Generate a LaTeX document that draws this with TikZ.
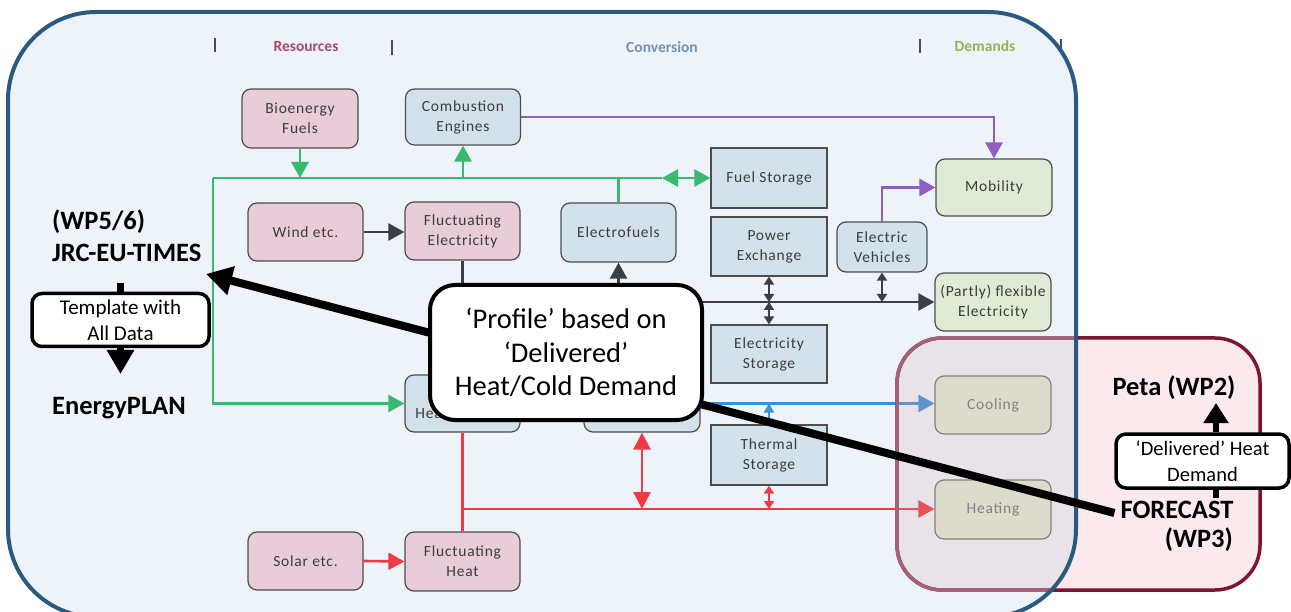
\documentclass[tikz,border=0pt]{standalone}
\usepackage{fontspec}
\setmainfont{Carlito}
\newfontfamily\boxfont[LetterSpace=5]{Carlito}
\usetikzlibrary{arrows.meta}
\definecolor{frameblue}{HTML}{2A5A80}
\definecolor{framefill}{HTML}{EEF3F9}
\definecolor{boxline}{HTML}{4D4D4D}
\definecolor{txt}{HTML}{3C3C3C}
\definecolor{boxpink}{HTML}{E8CCD8}
\definecolor{boxblue}{HTML}{D3E1EA}
\definecolor{boxgreen}{HTML}{DFEBD5}
\definecolor{cgreen}{HTML}{35BA70}
\definecolor{cpurple}{HTML}{8D5EC4}
\definecolor{cdark}{HTML}{3B3F44}
\definecolor{cblue}{HTML}{3E90D4}
\definecolor{cred}{HTML}{EE3A45}
\definecolor{petaline}{HTML}{7D1530}
\definecolor{petamuted}{HTML}{A36277}
\definecolor{petafill}{HTML}{FBE9ED}
\definecolor{overlaycol}{HTML}{D5A8B3}
\definecolor{hres}{HTML}{A84A6C}
\definecolor{hconv}{HTML}{7195AE}
\definecolor{hdem}{HTML}{8DB657}
\tikzset{
  MedTip/.tip={Triangle[length=16pt,width=17pt]},
  SmTip/.tip={Triangle[length=8pt,width=10pt]},
  RedTip/.tip={Triangle[length=17pt,width=17pt]},
  BlkTip/.tip={Triangle[length=26pt,width=28pt]},
  base/.style={draw=boxline, line width=1.2pt, align=center, text=txt,
    font=\boxfont\fontsize{15.5}{20}\selectfont, inner sep=2pt},
  sz/.style 2 args={minimum width=#1pt, minimum height=#2pt},
  pinkbox/.style={base, rounded corners=9pt, fill=boxpink},
  bluebox/.style={base, rounded corners=9pt, fill=boxblue},
  greenbox/.style={base, rounded corners=9pt, fill=boxgreen},
  sqbox/.style={base, fill=boxblue},
  gline/.style={draw=cgreen, line width=2.6pt},
  pline/.style={draw=cpurple, line width=2.6pt},
  dline/.style={draw=cdark, line width=2.6pt},
  bline/.style={draw=cblue, line width=2.6pt},
  rline/.style={draw=cred, line width=2.6pt},
  blk/.style={draw=black, line width=7.5pt},
  hdr/.style={font=\bfseries\fontsize{15.5}{18}\selectfont},
  hbar/.style={draw=black!70, line width=1.6pt},
  big/.style={font=\bfseries\fontsize{26.5}{30}\selectfont, inner sep=2pt},
  callout/.style={draw=black, fill=white, line width=3.5pt, align=center}
}
\begin{document}
\begin{tikzpicture}[x=1pt,y=-1pt]
\useasboundingbox (0,0) rectangle (1291,612);
% peta background (outside part)
\fill[petafill, rounded corners=45pt] (897,338) rectangle (1260,590);
% main frame fill
\fill[framefill, rounded corners=88pt] (8,12) rectangle (1076,617);

% headers
\draw[hbar] (215,38) -- (215,52);
\draw[hbar] (392,40) -- (392,55);
\draw[hbar] (920,39) -- (920,53);
\draw[hbar] (1061,39) -- (1061,53);
\node[hdr, text=hres] (hRes) at (306,47) {Resources};
\node[hdr, text=hconv] (hConv) at (662,47) {Conversion};
\node[hdr, text=hdem] (hDem) at (985,46) {Demands};

% boxes
\node[pinkbox, sz={116}{59}] (bio) at (300,118.5) {Bioenergy\\Fuels};
\node[bluebox, sz={115}{56}] (comb) at (463,117) {Combustion\\Engines};
\node[sqbox, sz={116}{60}] (fuelst) at (769,178) {Fuel Storage};
\node[greenbox, sz={116}{57}] (mob) at (994,187.5) {Mobility};
\node[pinkbox, sz={115}{58}] (wind) at (305.5,232) {Wind etc.};
\node[pinkbox, sz={115}{58}] (fluce) at (462.5,231) {Fluctuating\\Electricity};
\node[bluebox, sz={115}{59}] (efuel) at (618.5,232.5) {Electrofuels};
\node[sqbox, sz={116}{59}] (pex) at (769,246.5) {Power\\Exchange};
\node[bluebox, sz={90}{50}] (ev) at (882,247) {Electric\\Vehicles};
\node[greenbox, sz={116}{58}] (flex) at (993,302) {(Partly) flexible\\Electricity};
\node[sqbox, sz={116}{58}] (elst) at (769,354) {Electricity\\Storage};
\node[bluebox, sz={115}{57}] (chp) at (462.5,403.5) {Combined\\Heat \& Power};
\node[bluebox, sz={116}{57}] (hp) at (642,403.5) {};
\node[greenbox, sz={116}{58}, text=black!55, draw=black!55] (cool) at (993,405) {Cooling};
\node[greenbox, sz={116}{59}, text=black!55, draw=black!55] (heat) at (993,509.5) {Heating};
\node[sqbox, sz={116}{60}] (thst) at (769,455) {Thermal\\Storage};
\node[pinkbox, sz={115}{58}] (solar) at (305.5,561) {Solar etc.};
\node[pinkbox, sz={115}{59}] (fluch) at (462.5,561.5) {Fluctuating\\Heat};

% green connectors
\coordinate (gL) at (213,178);
\coordinate (gArr) at (662,178);
\draw[gline] (gL) -- (gArr);
\draw[gline,{MedTip}-{MedTip}] (gArr) -- (fuelst.west);
\draw[gline,-{MedTip}] (bio.south) -- (bio.south |- gL);
\draw[gline,-{MedTip}] (comb.south |- gL) -- (comb.south);
\draw[gline] (efuel.north) -- (efuel.north |- gL);
\draw[gline,-{MedTip}] (gL) |- (chp.west);

% purple
\draw[pline,-{MedTip}] (comb.east) -- (comb.east -| mob.north) -- (mob.north);
\draw[pline,-{MedTip}] (ev.north) |- (mob.west);

% dark electricity
\coordinate (eJ) at (462.5,302);
\draw[dline,-{MedTip}] (wind.east) -- (wind.east -| fluce.west);
\draw[dline] (fluce.south) -- (eJ);
\draw[dline,-{MedTip}] (eJ) -- (eJ -| flex.west);
\draw[dline,-{MedTip}] (eJ -| efuel.south) -- (efuel.south);
\draw[dline,{SmTip}-{SmTip}] (pex.south) -- (eJ -| pex.south);
\draw[dline,{SmTip}-{SmTip}] (eJ -| elst.north) -- (elst.north);
\draw[dline,{SmTip}-{SmTip}] (ev.south) -- (eJ -| ev.south);

% blue cooling
\draw[bline,-{MedTip}] (hp.east) -- (hp.east -| cool.west);
\draw[bline,-{Triangle[length=9pt,width=10pt]}] (thst.north) -- (thst.north |- hp.east);

% red heat
\coordinate (rJ) at (462.5,509);
\draw[rline] (chp.south) -- (fluch.north);
\draw[rline,-{MedTip}] (rJ) -- (rJ -| heat.west);
\draw[rline,-{MedTip}] (solar.east) -- (fluch.west);
\draw[rline,{RedTip}-{RedTip}] (hp.south) -- (rJ -| hp.south);
\draw[rline,{SmTip}-{SmTip}] (thst.south) -- (rJ -| thst.south);

% overlay inside frame
\begin{scope}
  \clip[rounded corners=88pt] (8,12) rectangle (1076,617);
  \fill[overlaycol, opacity=0.22, rounded corners=45pt] (897,338) rectangle (1260,590);
\end{scope}
\draw[petaline, line width=3.5pt, rounded corners=45pt] (897,338) rectangle (1260,590);
\begin{scope}
  \clip[rounded corners=88pt] (8,12) rectangle (1076,617);
  \draw[petamuted, line width=3.5pt, rounded corners=45pt] (897,338) rectangle (1260,590);
\end{scope}
% main frame border
\draw[frameblue, line width=4pt, rounded corners=88pt] (8,12) rectangle (1076,617);

% left texts
\node[big, anchor=west] (wp56) at (50,222) {(WP5/6)};
\node[big, anchor=west] (jrc) at (50,253) {JRC-EU-TIMES};
\node[big, anchor=west] (eplan) at (50,408) {EnergyPLAN};
\node[callout, line width=3.5pt, rounded corners=10pt, minimum width=177pt, minimum height=53pt,
  font=\fontsize{21}{26}\selectfont, inner sep=1pt] (tmpl) at (120.5,320) {Template with\\All Data};
\coordinate (stubTop) at (120.5,283);
\coordinate (tmplTip) at (120.5,374);
\draw[blk] (stubTop) -- (tmpl.north);
\draw[blk,-{Triangle[length=24pt,width=26pt]}] (tmpl.south) -- (tmplTip);

% right texts
\node[big] (peta) at (1174,388) {Peta (WP2)};
\node[big] (forecast) at (1177,510) {FORECAST};
\node[big, anchor=east] (wp3) at (1235,540) {(WP3)};
\node[callout, rounded corners=10pt, minimum width=173pt, minimum height=54pt,
  font=\fontsize{20.5}{26}\selectfont, inner sep=1pt] (deliv) at (1202.5,461) {‘Delivered’ Heat\\Demand};
\coordinate (petaTip) at (1216,403);
\coordinate (fcTop) at (1216,498);
\draw[blk, line width=6.5pt,-{Triangle[length=20pt,width=24pt]}] (deliv.north -| petaTip) -- (petaTip);
\draw[blk, line width=6.5pt] (deliv.south -| fcTop) -- (fcTop);

% long arrow
\coordinate (jrcTip) at (206,274);
\draw[blk, line width=8pt, -{BlkTip}] ([xshift=-4pt,yshift=-3pt]forecast.west) -- (jrcTip);

% profile callout
\node[callout, line width=4pt, rounded corners=25pt, minimum width=272pt, minimum height=135pt,
  font=\fontsize{28.5}{33.5}\selectfont] (profile) at (566,352.5)
  {‘Profile’ based on\\‘Delivered’\\Heat/Cold Demand};
\end{tikzpicture}
\end{document}
